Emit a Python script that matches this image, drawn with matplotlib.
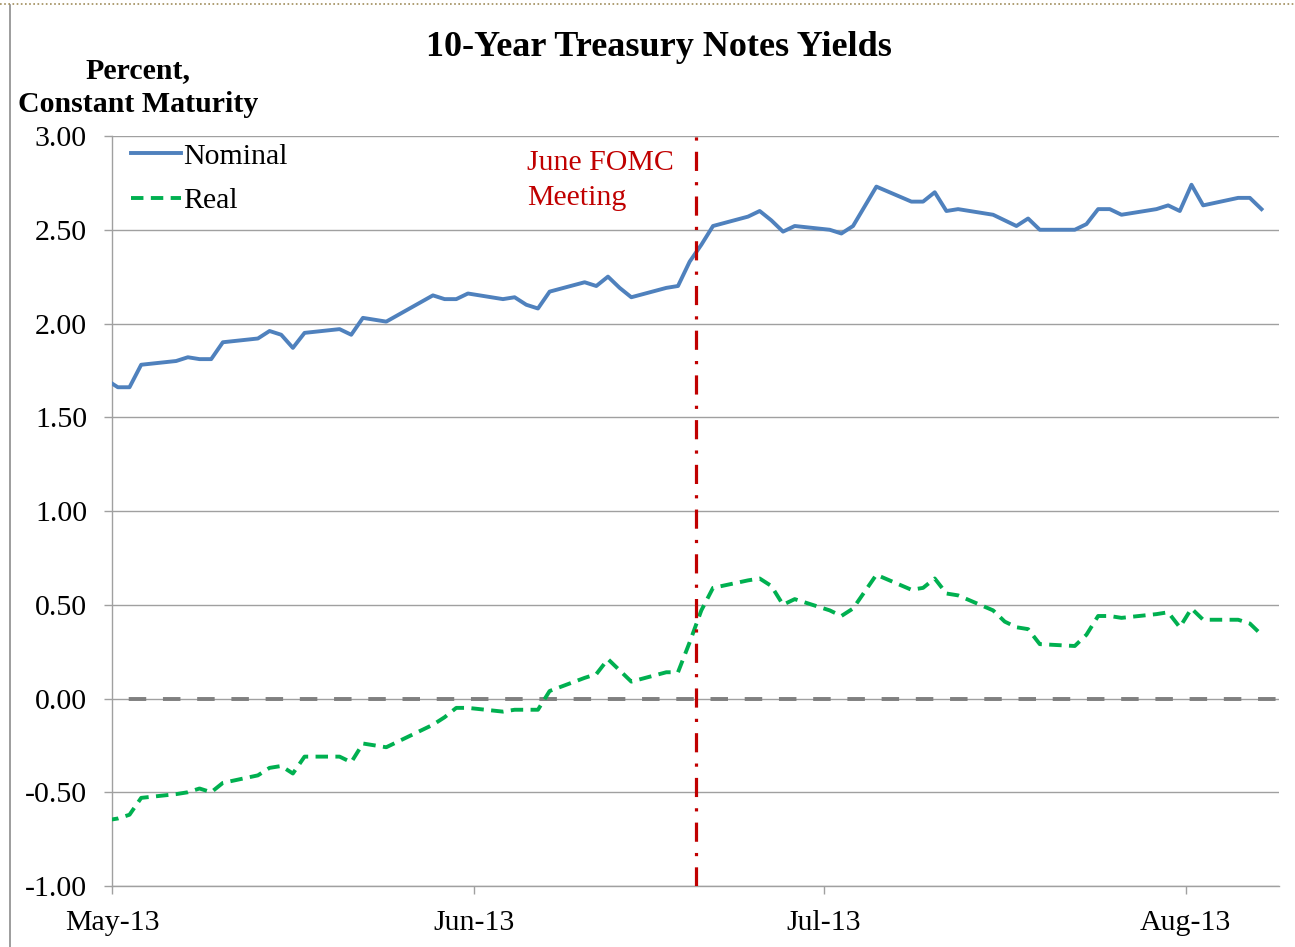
import matplotlib
matplotlib.use("Agg")
import matplotlib.pyplot as plt
import matplotlib.dates as mdates
from matplotlib.lines import Line2D
from matplotlib.ticker import FormatStrFormatter
import pandas as pd

plt.rcParams['font.family'] = ['Liberation Serif', 'DejaVu Serif']
plt.rcParams['axes.unicode_minus'] = False

# business days, Apr 30 - Aug 7 2013
dates = ['2013-04-30',
         '2013-05-01', '2013-05-02', '2013-05-03', '2013-05-06', '2013-05-07', '2013-05-08', '2013-05-09', '2013-05-10',
         '2013-05-13', '2013-05-14', '2013-05-15', '2013-05-16', '2013-05-17',
         '2013-05-20', '2013-05-21', '2013-05-22', '2013-05-23', '2013-05-24',
         '2013-05-28', '2013-05-29', '2013-05-30', '2013-05-31',
         '2013-06-03', '2013-06-04', '2013-06-05', '2013-06-06', '2013-06-07',
         '2013-06-10', '2013-06-11', '2013-06-12', '2013-06-13', '2013-06-14',
         '2013-06-17', '2013-06-18', '2013-06-19', '2013-06-20', '2013-06-21',
         '2013-06-24', '2013-06-25', '2013-06-26', '2013-06-27', '2013-06-28',
         '2013-07-01', '2013-07-02', '2013-07-03', '2013-07-05',
         '2013-07-08', '2013-07-09', '2013-07-10', '2013-07-11', '2013-07-12',
         '2013-07-15', '2013-07-16', '2013-07-17', '2013-07-18', '2013-07-19',
         '2013-07-22', '2013-07-23', '2013-07-24', '2013-07-25', '2013-07-26',
         '2013-07-29', '2013-07-30', '2013-07-31', '2013-08-01', '2013-08-02',
         '2013-08-05', '2013-08-06', '2013-08-07']

nominal = [1.70,
           1.66, 1.66, 1.78, 1.80, 1.82, 1.81, 1.81, 1.90,
           1.92, 1.96, 1.94, 1.87, 1.95,
           1.97, 1.94, 2.03, 2.02, 2.01,
           2.15, 2.13, 2.13, 2.16,
           2.13, 2.14, 2.10, 2.08, 2.17,
           2.22, 2.20, 2.25, 2.19, 2.14,
           2.19, 2.20, 2.33, 2.42, 2.52,
           2.57, 2.60, 2.55, 2.49, 2.52,
           2.50, 2.48, 2.52, 2.73,
           2.65, 2.65, 2.70, 2.60, 2.61,
           2.58, 2.55, 2.52, 2.56, 2.50,
           2.50, 2.53, 2.61, 2.61, 2.58,
           2.61, 2.63, 2.60, 2.74, 2.63,
           2.67, 2.67, 2.61]

real = [-0.65,
        -0.64, -0.62, -0.53, -0.51, -0.50, -0.48, -0.50, -0.45,
        -0.41, -0.37, -0.36, -0.40, -0.31,
        -0.31, -0.34, -0.24, -0.25, -0.26,
        -0.14, -0.10, -0.05, -0.05,
        -0.07, -0.06, -0.06, -0.06, 0.04,
        0.11, 0.13, 0.21, 0.15, 0.09,
        0.14, 0.14, 0.30, 0.47, 0.59,
        0.63, 0.64, 0.60, 0.50, 0.53,
        0.47, 0.44, 0.48, 0.66,
        0.58, 0.59, 0.64, 0.56, 0.55,
        0.47, 0.41, 0.38, 0.37, 0.29,
        0.28, 0.34, 0.44, 0.44, 0.43,
        0.45, 0.46, 0.38, 0.48, 0.42,
        0.42, 0.40, 0.34]

fomc_date = '2013-06-19'
month_ticks = ['2013-05-01', '2013-06-01', '2013-07-01', '2013-08-01']

x = pd.to_datetime(dates) + pd.Timedelta(hours=12)

fig = plt.figure(figsize=(12.95, 9.47), dpi=100)
ax = fig.add_axes([112/1295, 1-886/947, (1279-112)/1295, (886-136)/947])

blue = '#4F81BD'
green = '#00B050'
red = '#C00000'
grid_c = '#A0A0A0'

ax.set_ylim(-1.0, 3.0)
ax.set_yticks([-1.0, -0.5, 0.0, 0.5, 1.0, 1.5, 2.0, 2.5, 3.0])
ax.yaxis.set_major_formatter(FormatStrFormatter('%.2f'))
ax.grid(axis='y', color=grid_c, lw=1.0)
ax.set_axisbelow(True)

ax.plot(x, nominal, color=blue, lw=2.8, solid_joinstyle='round', label='Nominal', zorder=3)
ax.plot(x, real, color=green, lw=2.8, dashes=(3.2, 1.9), dash_capstyle='butt', label='Real', zorder=3)

ax.axhline(0, color='#7F7F7F', lw=2.8, linestyle=(4.5, (4.5, 4.3)), zorder=2)
ax.axvline(pd.Timestamp(fomc_date) + pd.Timedelta(days=1), color=red, lw=2.3,
           linestyle=(0, (6, 3.5, 1, 3.5)), zorder=4)

ax.set_xlim(pd.Timestamp('2013-05-01'), pd.Timestamp('2013-08-09'))
ax.set_xticks(pd.to_datetime(month_ticks))
ax.xaxis.set_major_formatter(mdates.DateFormatter('%b-%y'))

for s in ['top', 'right']:
    ax.spines[s].set_visible(False)
for s in ['left', 'bottom']:
    ax.spines[s].set_color(grid_c)
    ax.spines[s].set_linewidth(1.0)
ax.tick_params(axis='both', colors=grid_c, labelcolor='black', labelsize=21.5, length=6, width=1.0)
ax.tick_params(axis='y', pad=12)
ax.tick_params(axis='x', pad=11)

leg = ax.legend(loc='upper left', bbox_to_anchor=(0.006, 1.007), frameon=False, fontsize=21.5,
                handlelength=1.68, handletextpad=0.06, labelspacing=0.6, borderaxespad=0)

ax.text(0.3556, 0.9547, 'June FOMC', transform=ax.transAxes, color=red, fontsize=21.5, va='baseline')
ax.text(0.3556, 0.908, 'Meeting', transform=ax.transAxes, color=red, fontsize=21.5, va='baseline')

fig.text(659/1295, 1-56/947, '10-Year Treasury Notes Yields', ha='center', va='baseline',
         fontsize=26, fontweight='bold')
fig.text(138/1295, 1-78/947, 'Percent,', ha='center', va='baseline', fontsize=21.5, fontweight='bold')
fig.text(138/1295, 1-112/947, 'Constant Maturity', ha='center', va='baseline', fontsize=21.5, fontweight='bold')

# chart frame
fig.add_artist(Line2D([10/1295, 10/1295], [0, 1-5/947], transform=fig.transFigure, color='#8C8C8C', lw=1.2))
fig.add_artist(Line2D([0, 1], [1-4/947, 1-4/947], transform=fig.transFigure, color='#A08C5A', lw=1.2,
                      linestyle=(0, (1, 1.5))))

fig.savefig('out.png', dpi=100)
